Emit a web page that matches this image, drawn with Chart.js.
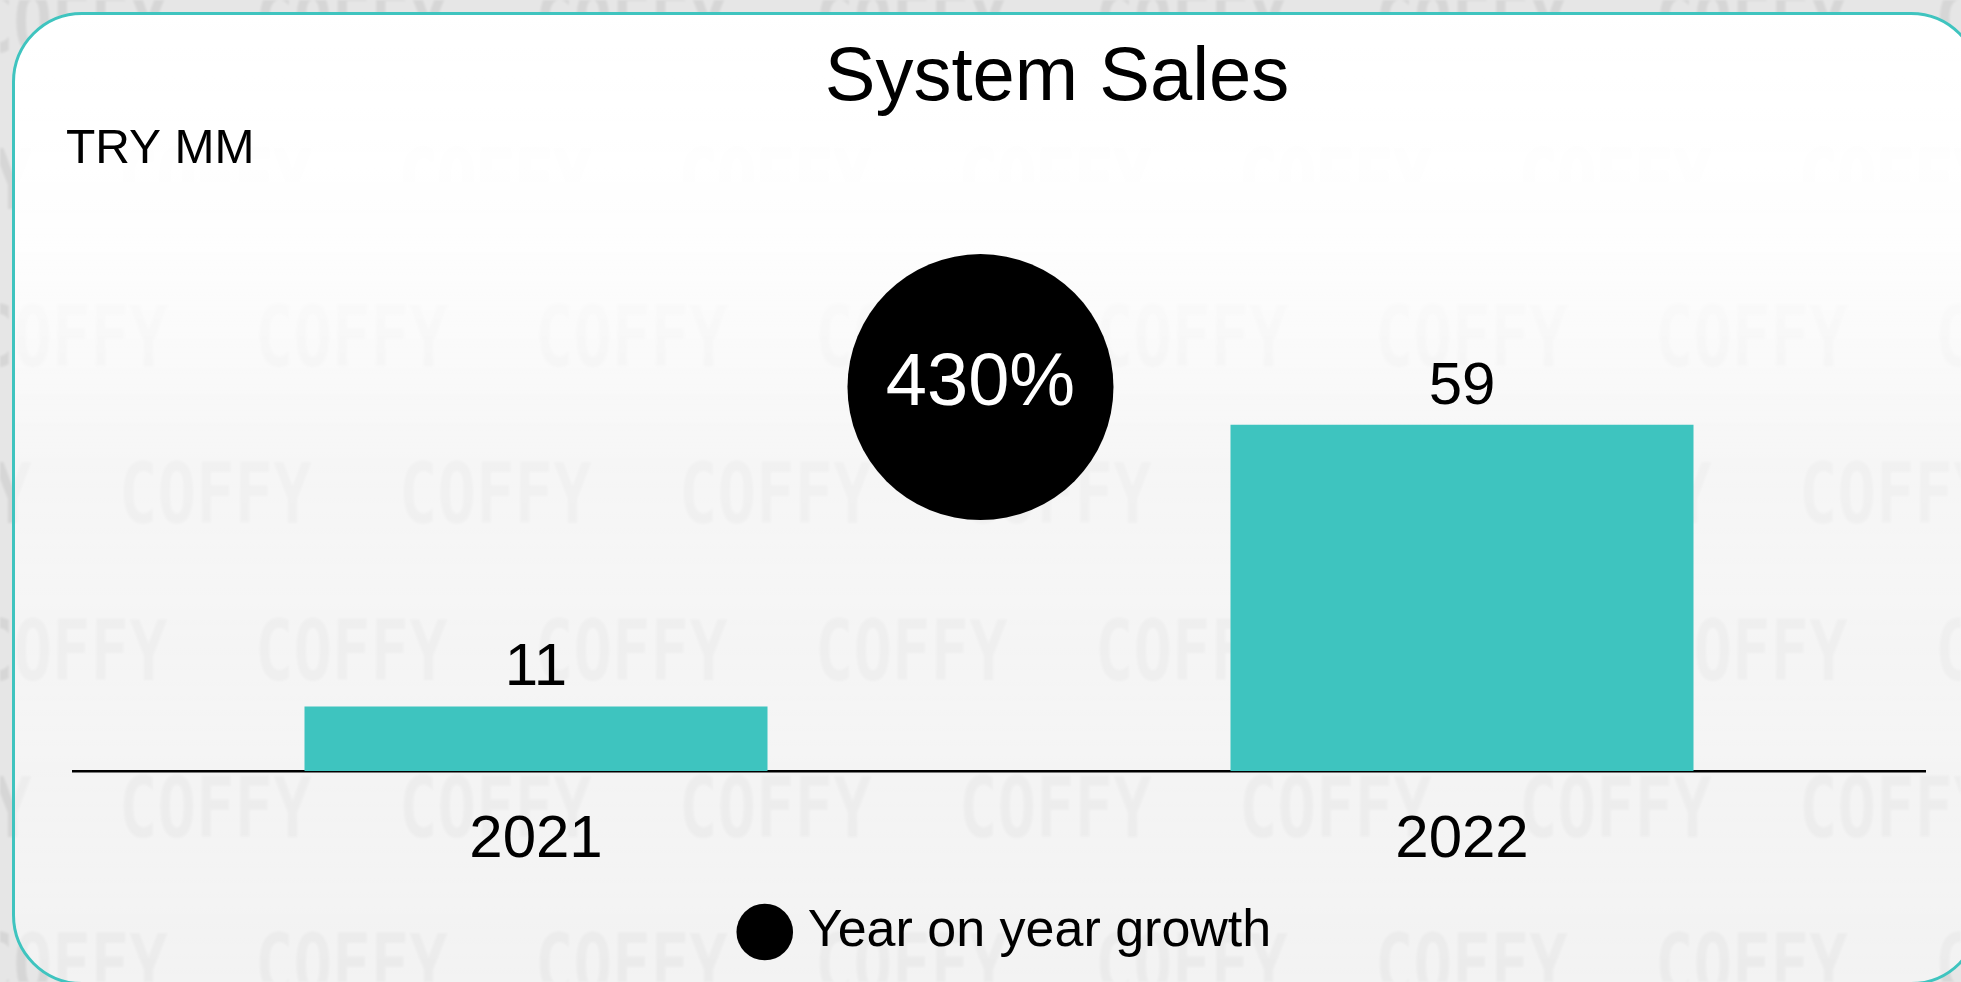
<!DOCTYPE html>
<html>
<head>
<meta charset="utf-8">
<script src="https://cdn.jsdelivr.net/npm/chart.js@4.4.1/dist/chart.umd.min.js"></script>
<style>
  html, body { margin: 0; padding: 0; width: 1961px; height: 982px; overflow: hidden; background: #e6e6e6; }
  #wm { position: absolute; left: 0; top: 0; width: 1961px; height: 982px; overflow: hidden; filter: blur(1px); }
  #wm span { position: absolute; font-family: 'DejaVu Sans Mono', monospace; font-weight: bold; font-size: 64px;
             color: rgba(0,0,0,0.065); transform: scaleY(1.3); transform-origin: 0 50%; white-space: nowrap; line-height: 1; }
  #card { position: absolute; left: 12px; top: 12px; width: 1969px; height: 973px; box-sizing: border-box;
          border: 3px solid #3fc4bf; border-radius: 70px;
          background: linear-gradient(to bottom, rgba(255,255,255,0.99) 0%, rgba(255,255,255,0.96) 22%,
                      rgba(255,255,255,0.66) 45%, rgba(255,255,255,0.52) 100%); }
  #chart { position: absolute; left: 0; top: 0; }
</style>
</head>
<body>
<div id="wm"></div>
<div id="card"></div>
<canvas id="chart" width="1961" height="982"></canvas>
<script>
// ---- data ----
const categories = ['2021', '2022'];
const salesValues = [11, 59];
const growthValues = [430];
const growthLabels = ['430%'];
const legendLabel = 'Year on year growth';
const titleText = 'System Sales';
const unitText = 'TRY MM';

// ---- styling / placement constants ----
const TEAL = '#3ec4bf';
const FONT = '"Liberation Sans", Arial, Helvetica, sans-serif';
const GROWTH_MARK = { x: 0.48, y: 65.4, radius: 133 };

// decorative background watermark
(function () {
  const wm = document.getElementById('wm');
  for (let r = 0; r < 7; r++) {
    const top = -9 + r * 157;
    const off = (r % 2 === 0) ? -25 : 119;
    for (let c = -1; c < 8; c++) {
      const s = document.createElement('span');
      s.textContent = 'COFFY';
      s.style.left = (off + c * 280) + 'px';
      s.style.top = top + 'px';
      wm.appendChild(s);
    }
  }
})();

Chart.defaults.font.family = FONT;
Chart.defaults.color = '#000';

const overlayText = {
  id: 'overlayText',
  afterDatasetsDraw(chart) {
    const ctx = chart.ctx;
    ctx.save();
    ctx.fillStyle = '#000';
    ctx.textAlign = 'center';
    ctx.textBaseline = 'alphabetic';
    ctx.font = '60px ' + FONT;
    chart.getDatasetMeta(0).data.forEach((bar, i) => {
      ctx.fillText(String(salesValues[i]), bar.x, bar.y - 21);
    });
    ctx.fillStyle = '#fff';
    ctx.textBaseline = 'middle';
    ctx.font = '74px ' + FONT;
    chart.getDatasetMeta(1).data.forEach((pt, i) => {
      ctx.fillText(growthLabels[i], pt.x, pt.y - 3);
    });
    ctx.fillStyle = '#000';
    ctx.font = '76px ' + FONT;
    ctx.fillText(titleText, 1057, 79);
    ctx.textAlign = 'left';
    ctx.font = '48px ' + FONT;
    ctx.fillText(unitText, 66, 150);
    ctx.restore();
  }
};

const hiddenAxis = (pos, w) => ({
  type: 'linear',
  position: pos,
  min: 0,
  max: 100,
  display: true,
  grid: { display: false, drawTicks: false },
  border: { display: false },
  ticks: { display: false },
  afterFit: (s) => { s.width = w; }
});

new Chart(document.getElementById('chart'), {
  data: {
    labels: categories,
    datasets: [
      {
        type: 'bar',
        label: titleText,
        data: salesValues,
        backgroundColor: TEAL,
        borderWidth: 0,
        grouped: false,
        barPercentage: 0.5,
        categoryPercentage: 1.0,
        xAxisID: 'x',
        yAxisID: 'y'
      },
      {
        type: 'scatter',
        label: legendLabel,
        data: growthValues.map(() => ({ x: GROWTH_MARK.x, y: GROWTH_MARK.y })),
        backgroundColor: '#000',
        pointBackgroundColor: '#000',
        borderWidth: 0,
        pointBorderWidth: 0,
        pointRadius: GROWTH_MARK.radius,
        pointHoverRadius: GROWTH_MARK.radius,
        pointStyle: 'circle',
        clip: false,
        xAxisID: 'x2',
        yAxisID: 'y'
      }
    ]
  },
  options: {
    responsive: false,
    animation: false,
    devicePixelRatio: 1,
    layout: { autoPadding: false, padding: { top: 184, left: 58, right: 0, bottom: 14 } },
    scales: {
      x: {
        type: 'category',
        offset: true,
        z: 1,
        grid: { display: false, drawTicks: false },
        border: { display: true, color: '#000', width: 2.5 },
        ticks: { font: { size: 60, family: FONT }, color: '#000', padding: 33, maxRotation: 0 },
        afterFit: (s) => { s.height = 125; }
      },
      x2: {
        type: 'linear',
        display: false,
        min: -0.5,
        max: 1.5
      },
      y: hiddenAxis('left', 15),
      y2: hiddenAxis('right', 36)
    },
    plugins: {
      title: { display: false },
      tooltip: { enabled: false },
      legend: {
        display: true,
        position: 'bottom',
        align: 'center',
        labels: {
          filter: (item) => item.datasetIndex === 1,
          usePointStyle: true,
          pointStyle: 'circle',
          boxWidth: 34,
          boxHeight: 40,
          padding: 10,
          color: '#000',
          font: { size: 52, family: FONT }
        }
      }
    }
  },
  plugins: [overlayText]
});
</script>
</body>
</html>
